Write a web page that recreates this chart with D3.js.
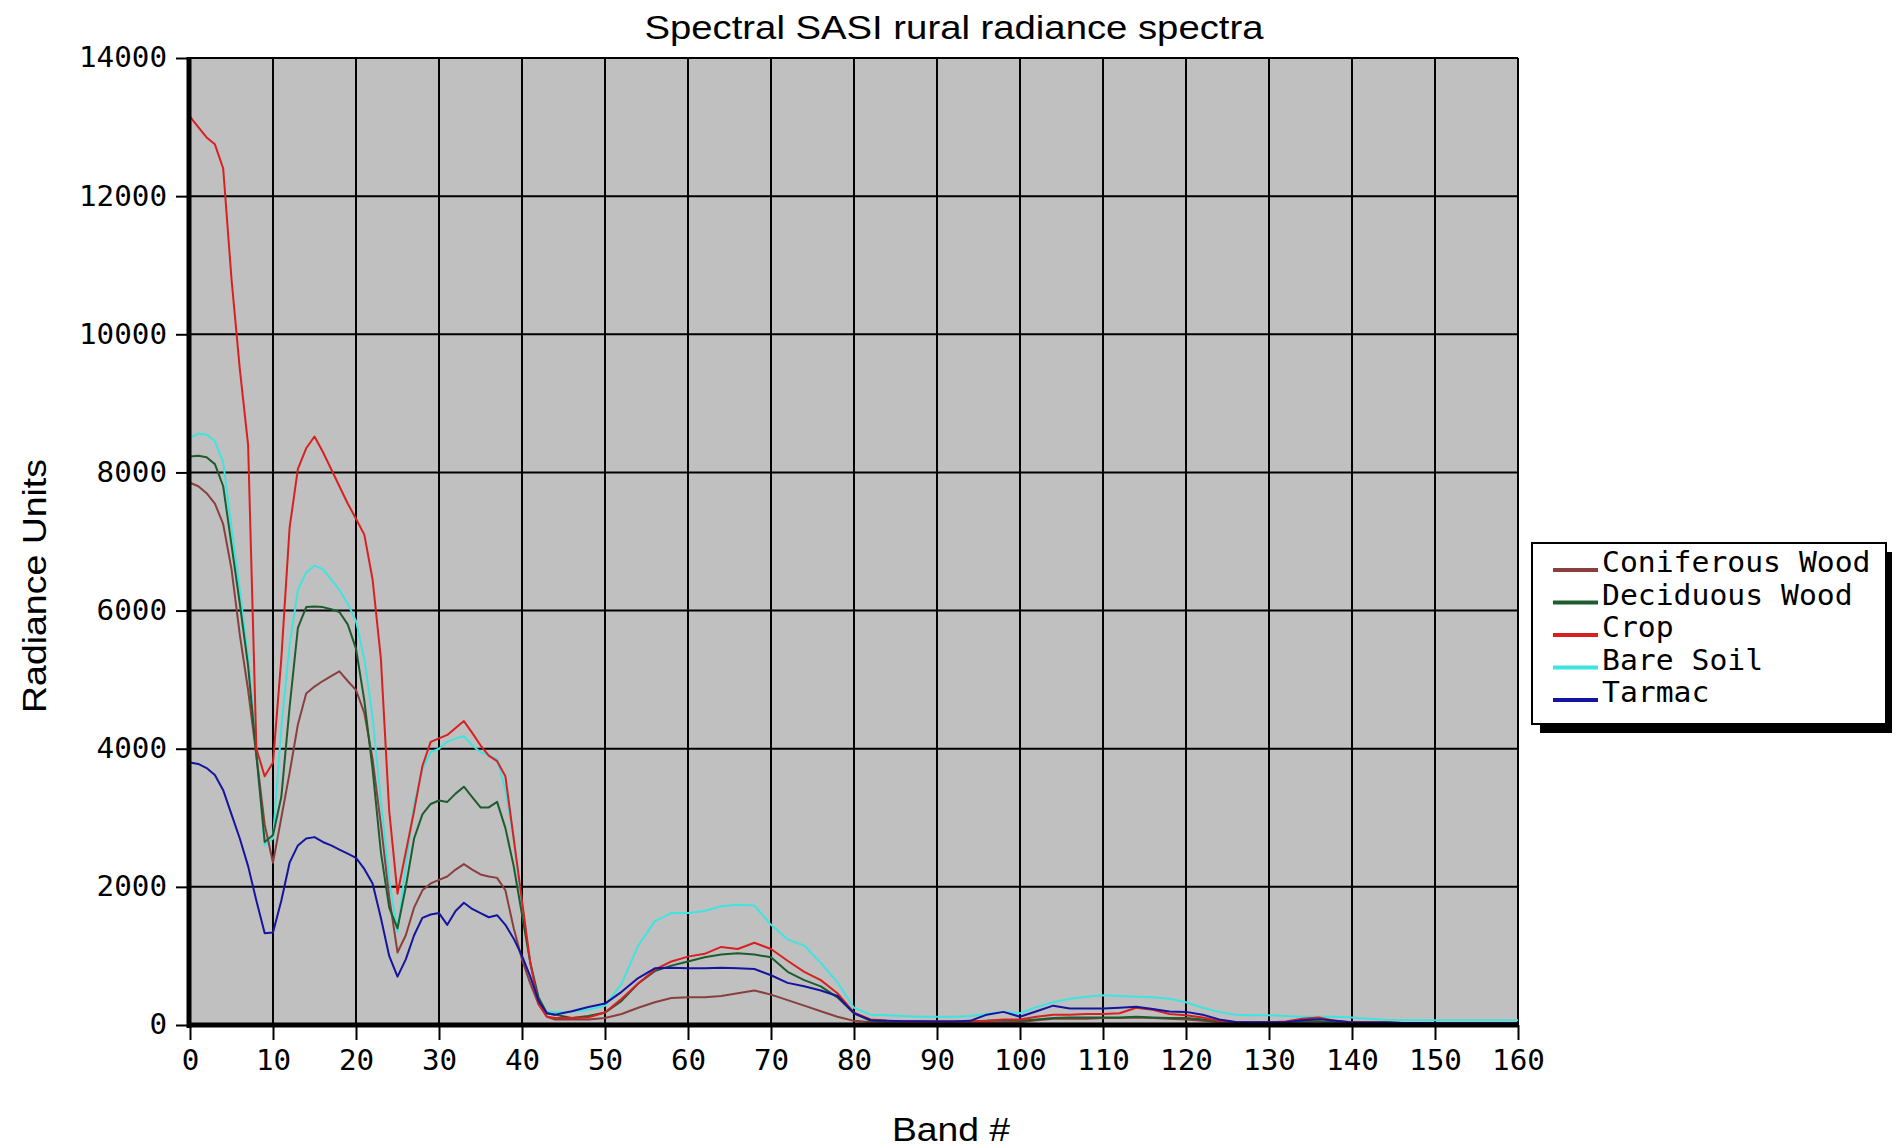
<!DOCTYPE html>
<html><head><meta charset="utf-8">
<script src="https://cdn.jsdelivr.net/npm/d3@7"></script>
<style>body{margin:0;background:#fff;} svg{display:block;}</style>
</head><body>
<script>
// Band numbers at which values were read
const bands = [0,1,2,3,4,5,6,7,8,9,10,11,12,13,14,15,16,17,18,19,20,21,22,23,24,25,26,27,28,29,30,31,32,33,34,35,36,37,38,39,40,41,42,43,44,
  46,48,50,52,54,56,58,60,62,64,66,68,70,72,74,76,78,80,82,84,86,88,90,92,94,96,98,100,102,104,106,108,110,112,114,116,118,120,122,124,126,128,130,132,134,136,138,140,142,144,146,148,150,152,154,156,158,160];

const coniferous = [7850,7800,7700,7550,7250,6600,5650,4850,3900,2900,2350,3000,3650,4350,4800,4900,4980,5050,5120,4980,4850,4520,3850,2900,1850,1050,1300,1700,1950,2050,2100,2150,2250,2330,2250,2180,2150,2130,1950,1400,950,600,300,120,80,
  80,80,100,160,250,330,390,400,400,420, 460,500,440,360,280,200,120,60,40,35, 35,35,35,35,35,35,40,40,70,90, 90,90,100,100,110,100,90,80,60,40, 30,30,30,30,40,50,35,30,30,30, 25,25,25,25,25,25,25,25];

const deciduous = [8230,8240,8220,8120,7800,6950,6100,5200,3900,2650,2750,3300,4600,5750,6050,6060,6050,6020,5980,5800,5450,4700,3700,2500,1700,1400,2000,2700,3050,3200,3250,3230,3350,3450,3300,3150,3150,3230,2850,2300,1600,900,400,170,150,
  100,130,180,350,600,780,860,920,980,1020, 1040,1020,980,770,650,560,400,170,60,50, 50,50,50,50,50,60,70,60,80,100, 110,110,110,110,120,110,100,100,80,50, 40,40,40,40,50,50,40,35,35,35, 30,30,30,30,30,30,30,30];

const crop = [13150,13000,12850,12750,12400,10800,9500,8400,4000,3600,3800,5300,7200,8050,8350,8520,8300,8050,7800,7550,7330,7100,6450,5300,3100,1900,2500,3100,3750,4100,4150,4200,4300,4400,4230,4050,3900,3820,3600,2700,1800,900,300,120,100,
  100,110,180,380,600,800,920,990,1030,1130, 1100,1190,1100,930,770,650,460,180,80,60, 50,50,50,50,50,60,80,80,120,150, 150,160,160,170,250,220,160,140,110,60, 40,40,40,50,90,110,60,40,40,40, 30,30,30,30,30,30,30,30];

const bareSoil = [8500,8560,8550,8450,8150,7200,6300,5300,4000,2600,2700,4300,5500,6300,6550,6650,6600,6450,6300,6100,5850,5300,4450,3250,2100,1350,2300,3200,3700,3950,4000,4100,4150,4180,4050,3950,3900,3850,3400,2700,1700,900,300,190,190,
  190,220,280,600,1150,1500,1620,1620,1650,1720, 1740,1730,1450,1240,1150,900,620,250,150,140, 130,120,120,120,130,160,190,170,260,330, 380,410,430,420,410,400,380,330,250,190, 150,140,140,130,120,120,120,110,90,75, 70,70,70,70,70,70,70,70];

const tarmac = [3800,3780,3720,3620,3400,3050,2700,2300,1800,1330,1340,1800,2350,2600,2700,2720,2650,2600,2540,2480,2420,2260,2050,1550,1000,700,950,1300,1550,1600,1620,1450,1650,1770,1680,1620,1560,1590,1450,1250,1000,700,350,170,150,
  200,260,310,480,680,820,830,820,820,830, 820,810,720,610,560,500,420,170,70,60, 55,55,50,50,60,150,190,120,200,280, 240,240,240,250,265,230,195,190,150,80, 45,40,40,40,70,85,60,35,35,35, 30,30,25,25,25,25,25,25];

const seriesNames = ["Coniferous Wood","Deciduous Wood","Crop","Bare Soil","Tarmac"];
const seriesColors = ["#8a3f3f","#1d5c2e","#d82020","#3ee4e0","#14149e"];
const seriesValues = [coniferous, deciduous, crop, bareSoil, tarmac];
const drawOrder = [3,0,1,2,4];

const xTicks = [0,10,20,30,40,50,60,70,80,90,100,110,120,130,140,150,160];
const yTicks = [0,2000,4000,6000,8000,10000,12000,14000];

const title = "Spectral SASI rural radiance spectra";
const xLabel = "Band #";
const yLabel = "Radiance Units";

const W = 1896, H = 1148;
const svg = d3.select("body").append("svg").attr("width", W).attr("height", H);
const x = d3.scaleLinear().domain([0,160]).range([190,1518]);
const y = d3.scaleLinear().domain([0,14000]).range([1025,58]);

const mono = "'DejaVu Sans Mono', monospace";
const sans = "'Liberation Sans', Arial, sans-serif";

// plot background
svg.append("rect").attr("x", x(0)).attr("y", y(14000))
  .attr("width", x(160)-x(0)).attr("height", y(0)-y(14000)).attr("fill", "#c0c0c0");

// grid
svg.append("g").selectAll("line").data(xTicks.slice(1)).join("line")
  .attr("x1", d=>x(d)).attr("x2", d=>x(d)).attr("y1", y(14000)).attr("y2", y(0))
  .attr("stroke", "#000").attr("stroke-width", 2);
svg.append("g").selectAll("line").data(yTicks.slice(1)).join("line")
  .attr("x1", x(0)).attr("x2", x(160)).attr("y1", d=>y(d)).attr("y2", d=>y(d))
  .attr("stroke", "#000").attr("stroke-width", 2);

// series
const line = d3.line().x((d,i)=>x(bands[i])).y(d=>y(d));
drawOrder.forEach(k=>{
  svg.append("path").datum(seriesValues[k]).attr("d", line)
    .attr("fill","none").attr("stroke", seriesColors[k]).attr("stroke-width", 2)
    .attr("stroke-linejoin","round");
});

// axes
const xAxis = svg.append("g").attr("transform", `translate(0,${y(0)})`)
  .call(d3.axisBottom(x).tickValues(xTicks).tickSize(15).tickPadding(10).tickFormat(d=>String(d)));
const yAxis = svg.append("g").attr("transform", `translate(${x(0)},0)`)
  .call(d3.axisLeft(y).tickValues(yTicks).tickSize(14).tickPadding(9).tickFormat(d=>String(d)));
[xAxis, yAxis].forEach(g=>{
  g.select(".domain").remove();
  g.selectAll(".tick line").attr("stroke","#000").attr("stroke-width",2);
  g.selectAll(".tick text").attr("fill","#000")
    .style("font-family", mono).style("font-size","28px")
    .attr("textLength", d=>String(d).length*17.6).attr("lengthAdjust","spacingAndGlyphs");
});
// thick axis lines
svg.append("line").attr("x1", x(0)-1).attr("x2", x(0)-1).attr("y1", y(14000)-1).attr("y2", y(0)+3)
  .attr("stroke","#000").attr("stroke-width",5);
svg.append("line").attr("x1", x(0)-3).attr("x2", x(160)+1).attr("y1", y(0)).attr("y2", y(0))
  .attr("stroke","#000").attr("stroke-width",5);

// titles
svg.append("text").attr("x", 954).attr("y", 39).attr("text-anchor","middle")
  .style("font-family", sans).style("font-size","34px").attr("fill","#000")
  .attr("textLength", 619).attr("lengthAdjust","spacingAndGlyphs").text(title);
svg.append("text").attr("x", 951).attr("y", 1141).attr("text-anchor","middle")
  .style("font-family", sans).style("font-size","34px").attr("fill","#000")
  .attr("textLength", 118).attr("lengthAdjust","spacingAndGlyphs").text(xLabel);
svg.append("text").attr("transform","translate(46,586) rotate(-90)").attr("text-anchor","middle")
  .style("font-family", sans).style("font-size","34px").attr("fill","#000")
  .attr("textLength", 254).attr("lengthAdjust","spacingAndGlyphs").text(yLabel);

// legend
const lg = svg.append("g");
lg.append("rect").attr("x",1540).attr("y",552).attr("width",352).attr("height",181).attr("fill","#000");
lg.append("rect").attr("x",1532).attr("y",543).attr("width",354).attr("height",181)
  .attr("fill","#fff").attr("stroke","#000").attr("stroke-width",2);
seriesNames.forEach((n,i)=>{
  const yy = 570 + i*32.5;
  lg.append("line").attr("x1",1553).attr("x2",1598).attr("y1",yy).attr("y2",yy)
    .attr("stroke",seriesColors[i]).attr("stroke-width",4);
  lg.append("text").attr("x",1602).attr("y",yy+2).attr("fill","#000")
    .style("font-family", mono).style("font-size","28px")
    .attr("textLength", n.length*17.9).attr("lengthAdjust","spacingAndGlyphs").text(n);
});
</script>
</body></html>
